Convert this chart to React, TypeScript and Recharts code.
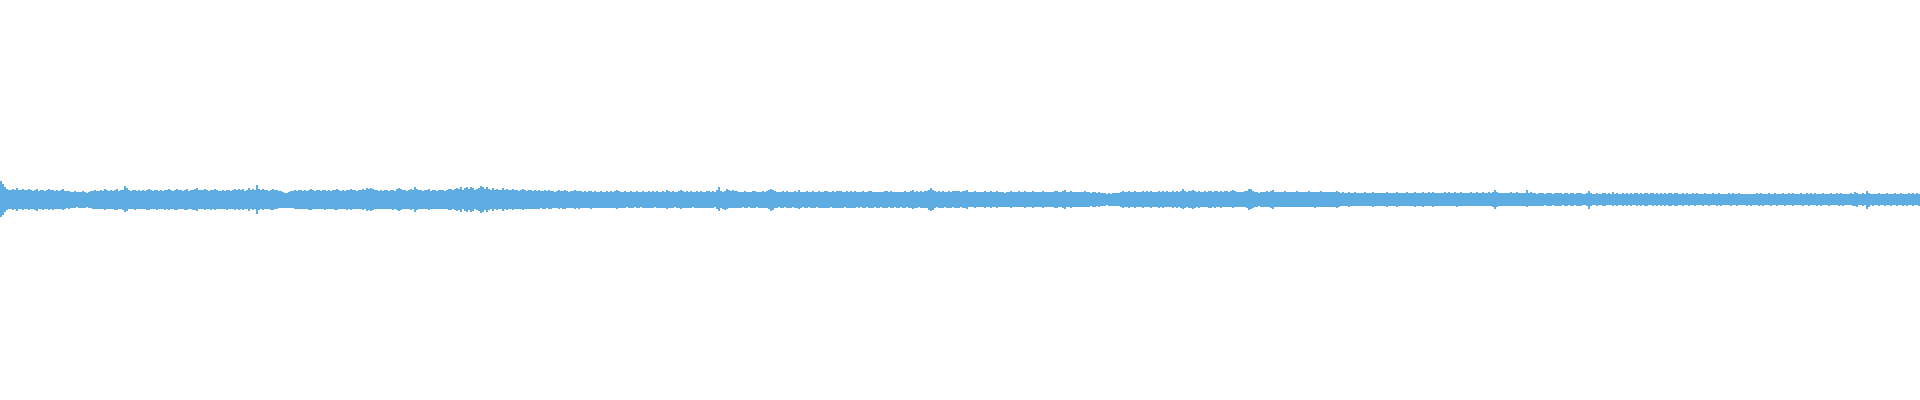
import { BarChart, Bar, XAxis, YAxis } from 'recharts';

// waveform envelope, one value per 2px column, in px-like units above / below zero
const top1 = [19,16,13,11,10,10,11,10,12,10, 10,11,10,10,11,10,9,10,11,9, 10,10,9,10,11,10,10,9,10,9, 10,11,9,9,9,8,8,9,8,8, 8,9,8,7,8,9,9,10,9,9, 10,9,11,10,9,10,9,10,11,9, 10,10,14,12,10,9,10,10,9,10, 9,10,9,10,11,10,9,10,10,9, 10,9,10,10,11,10,9,10,11,10, 10,9,10,11,9,10,10,11,12,10, 10,10,11,10,9,10,10,11,10,9, 9,10,9,10,10,9,10,11,10,11];
const bot1 = [17,15,12,10,9,9,10,9,11,9, 9,10,9,9,10,9,9,10,11,9, 9,10,9,9,10,9,10,9,9,9, 9,10,9,8,9,8,8,8,7,8, 8,8,8,7,8,8,9,9,9,9, 9,9,10,9,9,9,9,10,10,9, 9,10,12,11,9,9,9,10,9,9, 9,9,9,10,10,9,9,9,10,9, 9,9,10,9,10,9,9,10,10,9, 9,9,10,10,9,9,10,10,11,9, 9,9,10,9,9,10,9,10,9,9, 9,9,9,10,9,9,9,10,9,10];

const top2 = [10,11,9,10,12,10,11,10,15,11, 10,11,10,10,9,10,11,10,10,9, 9,8,7,7,8,9,9,10,9,10, 10,9,10,9,10,11,10,9,10,10, 9,10,10,9,10,9,10,10,11,10, 9,10,9,10,10,11,10,10,9,10, 10,11,10,12,11,12,11,10,10,9, 10,9,10,10,9,10,10,9,11,12, 11,10,10,9,10,11,10,13,11,10, 10,9,10,10,11,9,10,10,9,10, 10,10,9,10,11,11,10,11,12,11, 13,10,12,13,11,13,12,10,11,12];
const bot2 = [9,10,9,9,11,9,10,9,14,10, 9,10,9,9,9,10,10,9,9,8, 8,8,8,8,8,8,8,9,9,9, 9,9,9,9,10,10,9,9,9,9, 9,9,10,9,9,9,9,10,10,9, 9,9,9,10,9,10,9,9,9,9, 9,10,9,11,10,11,10,9,9,9, 9,9,9,9,9,9,10,9,10,11, 10,9,9,9,9,10,9,12,10,9, 9,9,9,9,10,9,9,9,9,9, 9,9,9,9,10,10,9,10,11,10, 12,9,11,12,10,12,11,9,10,11];

const top3 = [14,13,11,13,11,10,12,10,11,10, 10,12,10,11,10,10,11,10,10,9, 10,11,10,9,10,10,9,10,9,10, 9,9,10,9,10,9,9,8,9,10, 9,9,10,9,8,9,9,10,9,9, 9,8,9,8,9,9,8,9,8,8, 9,8,8,9,8,9,8,9,10,9, 8,8,9,8,8,9,8,8,9,8, 8,9,8,8,9,8,9,8,9,8, 8,9,8,10,9,8,9,8,8,9, 10,9,8,9,8,9,8,8,9,8, 9,8,8,9,9,8,9,8,10,13];
const bot3 = [13,12,10,12,10,9,11,9,10,9, 9,11,9,10,9,9,10,9,9,9, 9,10,9,9,9,9,9,9,9,9, 8,9,9,8,9,9,8,8,8,9, 8,9,9,8,8,8,8,9,8,9, 8,8,8,8,8,9,8,8,8,8, 8,8,8,8,8,8,8,8,9,8, 8,8,8,7,8,8,8,7,8,8, 7,8,8,8,8,8,8,7,8,8, 8,8,8,9,8,8,8,7,8,8, 9,8,8,8,8,8,7,8,8,8, 8,8,8,8,8,8,8,7,9,11];

const top4 = [9,8,9,11,10,9,10,9,9,8, 8,8,9,8,8,8,9,9,8,8, 8,9,8,9,10,11,10,9,8,8, 8,9,8,9,8,8,8,9,8,10, 8,8,8,9,8,8,9,8,8,9, 8,8,9,9,8,8,9,8,9,9, 9,8,8,9,8,9,8,9,8,8, 8,9,8,8,9,9,8,8,8,8, 8,8,9,9,8,9,8,8,8,8, 8,8,9,8,8,9,10,8,9,8, 9,8,9,9,10,12,10,9,8,9, 8,9,8,8,9,8,9,9,9,9];
const bot4 = [8,9,10,9,8,8,8,8,8,8, 8,7,8,8,7,8,8,8,7,8, 8,8,8,8,9,11,10,8,8,7, 8,8,7,8,8,8,7,8,8,9, 8,7,8,8,7,8,8,8,7,8, 8,8,8,8,8,7,8,8,8,8, 8,8,7,8,8,8,8,8,7,8, 7,8,8,7,8,8,8,7,8,8, 7,8,8,8,7,8,8,7,8,8, 7,8,8,7,8,8,9,8,8,7, 8,8,8,8,10,11,10,8,7,8, 8,8,7,8,8,8,7,8,8,8];

const top5 = [8,9,9,10,8,8,8,9,8,8, 8,8,9,8,8,9,8,8,9,8, 8,8,7,8,8,9,8,8,8,9, 8,8,9,8,8,8,9,8,8,8, 8,9,8,8,8,8,8,9,9,8, 8,9,10,8,8,9,8,8,8,8, 8,8,9,8,8,7,8,8,7,8, 7,7,7,6,7,6,7,7,7,7, 8,9,8,8,9,8,8,9,8,8, 8,9,8,9,8,9,8,8,8,9, 8,9,8,9,8,8,9,8,9,8, 9,11,9,8,9,9,10,9,8,9];
const bot5 = [7,8,8,9,7,7,7,8,7,7, 7,7,8,7,7,8,7,7,8,7, 7,7,7,7,7,8,7,7,7,7, 7,7,8,7,7,7,8,7,7,7, 7,8,7,7,7,7,7,8,8,7, 7,8,9,7,7,8,7,7,7,7, 7,7,7,7,7,6,7,7,6,7, 6,6,6,5,6,6,6,6,6,6, 7,8,7,7,8,7,7,8,7,7, 7,8,7,7,7,8,7,7,7,8, 7,8,7,7,7,7,8,7,8,7, 8,9,8,7,8,8,9,8,7,8];

const top6 = [8,8,9,8,9,9,8,9,9,8, 9,8,9,9,8,9,10,9,8,8, 8,8,9,9,11,11,9,8,8,7, 8,8,8,9,8,9,10,8,8,8, 8,8,9,8,8,8,8,8,9,8, 8,8,8,8,9,8,8,8,8,8, 9,8,8,8,8,8,8,8,9,8, 7,8,7,7,8,7,7,8,7,7, 7,7,8,7,7,7,8,7,7,7, 7,7,7,8,7,7,7,7,8,7, 7,7,7,8,7,7,7,8,7,7, 7,8,7,7,8,7,8,7,7,7];
const bot6 = [7,7,7,7,8,8,7,8,7,7, 8,7,7,7,7,7,8,7,7,7, 7,7,7,8,10,9,8,7,7,6, 7,7,7,7,7,8,9,7,7,7, 7,7,7,7,7,7,7,7,7,7, 7,7,7,7,7,7,7,8,7,7, 7,7,7,7,7,7,7,7,8,7, 6,6,6,6,7,6,6,6,6,6, 6,6,6,6,6,6,7,6,6,6, 6,6,6,7,6,6,6,6,7,6, 6,6,6,6,6,6,6,7,6,6, 6,7,6,6,6,6,7,6,6,6];

const top7 = [7,7,8,7,8,7,7,8,7,7, 8,7,7,7,7,8,7,7,8,7, 7,8,7,7,8,7,8,10,8,7, 7,7,7,7,7,8,7,7,8,7, 7,7,7,10,7,8,7,7,6,7, 7,7,6,7,7,7,6,7,7,7, 7,6,7,7,6,7,7,6,7,7, 7,6,6,7,9,7,6,6,7,6, 6,7,7,6,7,6,8,6,7,6, 6,7,6,7,6,7,6,7,7,6, 7,6,7,7,6,7,7,6,7,6, 7,6,7,6,7,7,6,7,7,6];
const bot7 = [6,6,6,6,6,6,6,6,7,6, 6,6,6,6,6,6,6,6,6,6, 6,6,6,6,6,6,7,9,7,6, 6,6,6,6,6,6,6,6,6,6, 6,6,6,7,6,6,6,6,6,6, 6,6,5,6,6,6,5,6,6,6, 6,5,6,6,5,6,6,5,6,6, 6,5,5,6,9,6,5,5,6,5, 5,6,6,5,5,5,6,5,6,5, 5,6,5,6,5,6,5,5,6,5, 6,5,6,6,5,5,6,5,6,5, 6,5,6,5,6,6,5,6,6,5];

const top8 = [6,7,6,7,6,6,7,6,7,6, 6,6,7,6,6,6,7,6,6,7, 6,6,6,6,7,6,7,6,6,7, 6,6,6,6,6,6,6,6,7,6, 7,6,6,6,7,6,6,7,6,6, 6,7,6,6,7,6,7,6,6,6, 7,6,6,7,6,7,6,7,6,6, 6,7,6,6,6,7,6,6,7,6, 7,6,6,6,6,7,6,8,7,6, 6,7,6,9,7,6,6,6,6,7, 6,6,6,7,6,6,6,7,6,6, 7,6,6,6,7,6,7,6,7,6];
const bot8 = [5,6,5,5,6,5,5,6,5,5, 5,6,5,5,6,5,5,5,6,5, 6,5,5,5,5,6,5,5,6,5, 5,5,5,6,5,6,5,5,5,6, 5,6,5,5,5,6,5,5,6,5, 5,5,6,5,5,5,6,5,5,5, 5,6,5,5,6,5,5,5,6,5, 6,5,5,5,6,5,5,5,5,6, 5,6,5,5,5,5,6,6,7,5, 5,6,5,9,7,5,6,5,5,6, 5,5,6,5,5,6,5,5,6,5, 5,6,5,6,5,5,6,5,5,6];

const tops = [top1, top2, top3, top4, top5, top6, top7, top8].flat();
const bots = [bot1, bot2, bot3, bot4, bot5, bot6, bot7, bot8].flat();

const data = tops.map((t, i) => ({ i, range: [-(bots[i] ?? t), t] }));

export default function App() {
  return (
    <div style={{ position: 'absolute', left: 0, top: 0, width: 1920, height: 400, background: '#fff' }}>
      <BarChart
        width={1920}
        height={400}
        data={data}
        margin={{ top: 0, right: 0, bottom: 0, left: 0 }}
        barCategoryGap={0}
        barGap={0}
      >
        <XAxis dataKey="i" hide />
        <YAxis hide domain={[-200, 200]} allowDataOverflow />
        <Bar dataKey="range" fill="#5DADE2" isAnimationActive={false} />
      </BarChart>
    </div>
  );
}
